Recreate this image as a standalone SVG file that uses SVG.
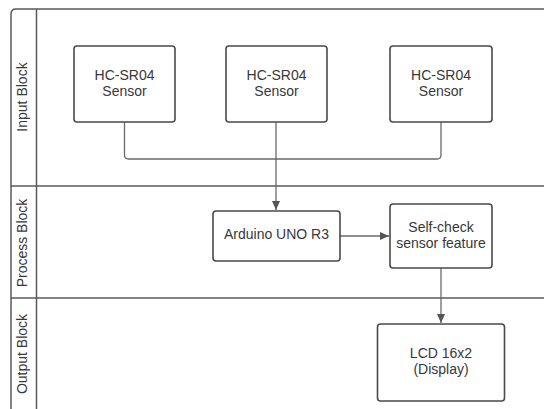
<svg xmlns="http://www.w3.org/2000/svg" width="544" height="409" viewBox="0 0 544 409">
<style>
.frame{fill:none;stroke:#5a5a5a;stroke-width:1.5}
.node{fill:#fff;stroke:#4a4a4a;stroke-width:1.6}
.t{font-family:"Liberation Sans",Arial,sans-serif;font-size:14px;fill:#383838;text-anchor:middle}
.lane{font-family:"Liberation Sans",Arial,sans-serif;font-size:14px;fill:#383838;text-anchor:middle;dominant-baseline:central}
.c{fill:none;stroke:#6a6a6a;stroke-width:1.3}
</style>
<defs>
<marker id="ah" markerWidth="10" markerHeight="10" refX="9" refY="5" orient="auto" markerUnits="userSpaceOnUse">
<path d="M0,1 L9,5 L0,9 Z" fill="#555"/>
</marker>
</defs>
<rect width="544" height="409" fill="#fff"/>
<g id="frame">
<path class="frame" d="M11,412 L11,14 Q11,9 16,9 L546,9"/>
<line class="frame" x1="36.5" y1="9" x2="36.5" y2="409"/>
<line class="frame" x1="11" y1="186" x2="546" y2="186"/>
<line class="frame" x1="11" y1="298" x2="546" y2="298"/>
<text class="lane" transform="translate(22,97) rotate(-90)">Input Block</text>
<text class="lane" transform="translate(22,243) rotate(-90)">Process Block</text>
<text class="lane" transform="translate(22,354) rotate(-90)">Output Block</text>
</g>
<g id="connectors">
<path class="c" d="M124.5,122 L124.5,155 Q124.5,159 128.5,159 L276,159"/>
<path class="c" d="M441,122 L441,155 Q441,159 437,159 L276,159"/>
<path class="c" d="M276,122 L276,210" marker-end="url(#ah)"/>
<path class="c" d="M340,236 L389,236" marker-end="url(#ah)"/>
<path class="c" d="M441,268 L441,323" marker-end="url(#ah)"/>
</g>
<g id="sensor1">
<rect class="node" x="74" y="46" width="101" height="76" rx="3"/>
<text class="t" x="124.5" y="79.5">HC-SR04</text>
<text class="t" x="124.5" y="95.5">Sensor</text>
</g>
<g id="sensor2">
<rect class="node" x="226" y="46" width="101" height="76" rx="3"/>
<text class="t" x="276.5" y="79.5">HC-SR04</text>
<text class="t" x="276.5" y="95.5">Sensor</text>
</g>
<g id="sensor3">
<rect class="node" x="390" y="46" width="102" height="76" rx="3"/>
<text class="t" x="441" y="79.5">HC-SR04</text>
<text class="t" x="441" y="95.5">Sensor</text>
</g>
<g id="arduino">
<rect class="node" x="213" y="211" width="127" height="50" rx="3"/>
<text class="t" x="276.5" y="238.5">Arduino UNO R3</text>
</g>
<g id="selfcheck">
<rect class="node" x="390" y="204" width="102" height="64" rx="3"/>
<text class="t" x="441" y="232">Self-check</text>
<text class="t" x="441" y="248">sensor feature</text>
</g>
<g id="lcd">
<rect class="node" x="377.5" y="324" width="127" height="77" rx="3"/>
<text class="t" x="441" y="357.5">LCD 16x2</text>
<text class="t" x="441" y="373.5">(Display)</text>
</g>
</svg>
